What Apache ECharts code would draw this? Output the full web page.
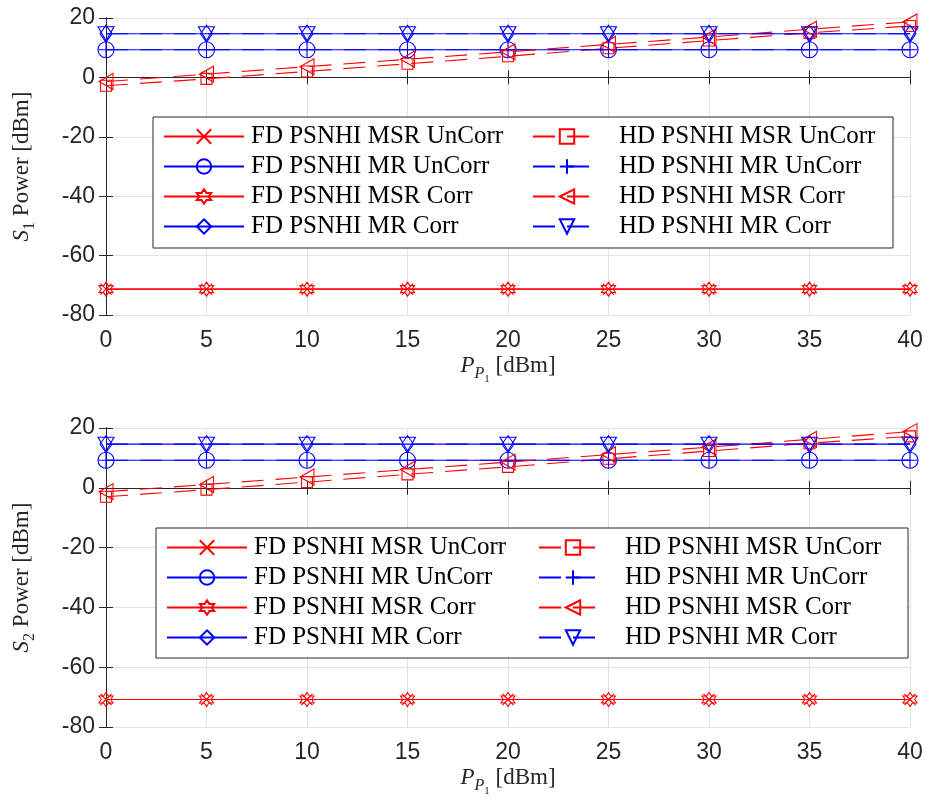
<!DOCTYPE html>
<html>
<head>
<meta charset="utf-8">
<title>S1 / S2 power vs P_P1</title>
<script src="https://cdn.jsdelivr.net/npm/echarts@6/dist/echarts.min.js"></script>
<style>
    html, body { margin: 0; padding: 0; background: #fff; }
    #main { width: 929px; height: 805px; }
</style>
</head>
<body>
<div id="main"></div>
<script>
    // x axis: P_P1 in dBm
    var xValues = [0, 5, 10, 15, 20, 25, 30, 35, 40];

    var seriesNames = [
        'FD PSNHI MSR UnCorr', 'FD PSNHI MR UnCorr', 'FD PSNHI MSR Corr', 'FD PSNHI MR Corr',
        'HD PSNHI MSR UnCorr', 'HD PSNHI MR UnCorr', 'HD PSNHI MSR Corr', 'HD PSNHI MR Corr'
    ];

    // upper plot, S1 power [dBm]
    var s1FdMsrUnCorr = [-71.3, -71.3, -71.3, -71.3, -71.3, -71.3, -71.3, -71.3, -71.3];
    var s1FdMrUnCorr  = [9.3, 9.3, 9.3, 9.3, 9.3, 9.3, 9.3, 9.3, 9.3];
    var s1FdMsrCorr   = [-71.3, -71.3, -71.3, -71.3, -71.3, -71.3, -71.3, -71.3, -71.3];
    var s1FdMrCorr    = [14.7, 14.7, 14.7, 14.7, 14.7, 14.7, 14.7, 14.7, 14.7];
    var s1HdMsrUnCorr = [-2.8, -0.5, 2.0, 4.6, 7.1, 9.8, 12.4, 15.0, 17.3];
    var s1HdMrUnCorr  = [9.3, 9.3, 9.3, 9.3, 9.3, 9.3, 9.3, 9.3, 9.3];
    var s1HdMsrCorr   = [-1.4, 1.1, 3.6, 6.1, 8.6, 11.1, 13.6, 16.2, 18.7];
    var s1HdMrCorr    = [14.7, 14.7, 14.7, 14.7, 14.7, 14.7, 14.7, 14.7, 14.7];

    // lower plot, S2 power [dBm]
    var s2FdMsrUnCorr = [-70.8, -70.8, -70.8, -70.8, -70.8, -70.8, -70.8, -70.8, -70.8];
    var s2FdMrUnCorr  = [9.2, 9.2, 9.2, 9.2, 9.2, 9.2, 9.2, 9.2, 9.2];
    var s2FdMsrCorr   = [-70.8, -70.8, -70.8, -70.8, -70.8, -70.8, -70.8, -70.8, -70.8];
    var s2FdMrCorr    = [14.6, 14.6, 14.6, 14.6, 14.6, 14.6, 14.6, 14.6, 14.6];
    var s2HdMsrUnCorr = [-3.0, -0.6, 1.9, 4.5, 7.0, 9.7, 12.3, 14.9, 17.2];
    var s2HdMrUnCorr  = [9.2, 9.2, 9.2, 9.2, 9.2, 9.2, 9.2, 9.2, 9.2];
    var s2HdMsrCorr   = [-1.3, 1.1, 3.6, 6.1, 8.6, 11.1, 13.6, 16.2, 18.8];
    var s2HdMrCorr    = [14.6, 14.6, 14.6, 14.6, 14.6, 14.6, 14.6, 14.6, 14.6];

    var yTicks = [-80, -60, -40, -20, 0, 20];

    var RED = '#ff0000', BLUE = '#0000ff';
    var AXIS = '#262626', GRIDLINE = '#e3e3e3';
    var SERIF = '"Liberation Serif", "DejaVu Serif", serif';
    var SANS = '"Liberation Sans", Arial, sans-serif';

    // MATLAB-like marker shapes
    var MARK = {
        x:        {symbol: 'path://M0,0L10,10M0,10L10,0', size: 11},
        circle:   {symbol: 'circle', size: 16},
        hexagram: {symbol: 'path://M5,0L6.44,2.5L9.33,2.5L7.89,5L9.33,7.5L6.44,7.5L5,10L3.56,7.5L0.67,7.5L2.11,5L0.67,2.5L3.56,2.5Z', size: 14},
        diamond:  {symbol: 'diamond', size: [12, 17]},
        square:   {symbol: 'rect', size: 11},
        plus:     {symbol: 'path://M5,0L5,10M0,5L10,5', size: 15},
        triLeft:  {symbol: 'path://M0,5L10,0L10,10Z', size: [14, 16]},
        triDown:  {symbol: 'path://M0,0L10,0L5,10Z', size: [16, 14]}
    };

    var styles = [
        {mark: MARK.x, color: RED, dash: false},
        {mark: MARK.circle, color: BLUE, dash: false},
        {mark: MARK.hexagram, color: RED, dash: false},
        {mark: MARK.diamond, color: BLUE, dash: false},
        {mark: MARK.square, color: RED, dash: true},
        {mark: MARK.plus, color: BLUE, dash: true},
        {mark: MARK.triLeft, color: RED, dash: true},
        {mark: MARK.triDown, color: BLUE, dash: true}
    ];

    var chart = echarts.init(document.getElementById('main'));

    function pairs(vals) {
        var out = [];
        for (var i = 0; i < xValues.length; i++) out.push([xValues[i], vals[i]]);
        return out;
    }

    function makeSeries(idx, list) {
        return list.map(function (vals, i) {
            var st = styles[i];
            return {
                name: seriesNames[i],
                type: 'line',
                xAxisIndex: idx * 2,
                yAxisIndex: idx * 2,
                data: pairs(vals),
                symbol: st.mark.symbol,
                symbolSize: st.mark.size,
                showAllSymbol: true,
                lineStyle: {color: st.color, width: 1.1, type: st.dash ? [22, 12] : 'solid'},
                itemStyle: {color: 'none', borderColor: st.color, borderWidth: 1.1},
                emphasis: {disabled: true},
                z: 2
            };
        });
    }

    function xAxes(gridIndex, label) {
        return [{
            type: 'value', gridIndex: gridIndex, position: 'bottom',
            min: 0, max: 40, interval: 5,
            name: label, nameLocation: 'middle', nameGap: 39,
            nameTextStyle: axisNameStyle(),
            axisLine: {lineStyle: {color: AXIS, width: 1}},
            axisTick: {inside: true, length: 7, lineStyle: {color: AXIS}},
            axisLabel: {color: '#262626', fontFamily: SANS, fontSize: 23, margin: 14},
            splitLine: {show: true, lineStyle: {color: GRIDLINE, width: 1}}
        }, {
            type: 'value', gridIndex: gridIndex, position: 'top',
            min: 0, max: 40, interval: 5,
            axisLine: {lineStyle: {color: AXIS, width: 1}},
            axisTick: {inside: true, length: 7, lineStyle: {color: AXIS}},
            axisLabel: {show: false},
            splitLine: {show: false}
        }];
    }

    function yAxes(gridIndex, label) {
        return [{
            type: 'value', gridIndex: gridIndex, position: 'left',
            min: yTicks[0], max: yTicks[yTicks.length - 1], interval: 20,
            name: label, nameLocation: 'middle', nameGap: 72,
            nameTextStyle: axisNameStyle(),
            axisLine: {lineStyle: {color: AXIS, width: 1}},
            axisTick: {inside: true, length: 7, lineStyle: {color: AXIS}},
            axisLabel: {color: '#262626', fontFamily: SANS, fontSize: 23, margin: 11},
            splitLine: {show: true, lineStyle: {color: GRIDLINE, width: 1}}
        }, {
            type: 'value', gridIndex: gridIndex, position: 'right',
            min: yTicks[0], max: yTicks[yTicks.length - 1], interval: 20,
            axisLine: {lineStyle: {color: AXIS, width: 1}},
            axisTick: {inside: true, length: 7, lineStyle: {color: AXIS}},
            axisLabel: {show: false},
            splitLine: {show: false}
        }];
    }

    // rich text for the italic letters and the subscripts
    function axisNameStyle() {
        return {
            color: '#262626', fontFamily: SERIF, fontSize: 23,
            rich: {
                t:  {fontFamily: SERIF, fontSize: 23, lineHeight: 24, verticalAlign: 'top', color: '#262626'},
                i:  {fontFamily: SERIF, fontSize: 23, lineHeight: 24, verticalAlign: 'top', fontStyle: 'italic', color: '#262626'},
                s:  {fontFamily: SERIF, fontSize: 16, lineHeight: 16, verticalAlign: 'top', padding: [12, 0, 0, 0], color: '#262626'},
                si: {fontFamily: SERIF, fontSize: 16, lineHeight: 16, verticalAlign: 'top', padding: [12, 0, 0, 0], fontStyle: 'italic', color: '#262626'},
                ss: {fontFamily: SERIF, fontSize: 11, lineHeight: 12, verticalAlign: 'top', padding: [20, 0, 0, 0], color: '#262626'}
            }
        };
    }

    function legendPair(top, leftX, rightX, leftW, rightW, rightPad) {
        var text = {fontFamily: SERIF, fontSize: 25, color: '#000'};
        function one(x, w, names, pad) {
            var ts = echarts.util.clone(text);
            ts.padding = [0, 0, 0, pad];
            return {
                orient: 'vertical', top: top, left: x, padding: 0,
                itemWidth: w, itemHeight: 18, itemGap: 5,
                selectedMode: false, z: 5,
                textStyle: ts,
                data: names
            };
        }
        return [
            one(leftX, leftW, seriesNames.slice(0, 4), 2),
            one(rightX, rightW, seriesNames.slice(4), rightPad)
        ];
    }

    function legendBox(x1, y1, x2, y2) {
        return {
            type: 'rect', z: 3,
            shape: {x: x1, y: y1, width: x2 - x1, height: y2 - y1},
            style: {fill: '#fff', stroke: AXIS, lineWidth: 1}
        };
    }

    var option = {
        animation: false,
        grid: [
            {left: 106, top: 18, right: 19, height: 297},
            {left: 106, top: 428, right: 19, height: 299}
        ],
        xAxis: xAxes(0, '{i|P}{si|P}{ss|1}{t| [dBm]}').concat(xAxes(1, '{i|P}{si|P}{ss|1}{t| [dBm]}')),
        yAxis: yAxes(0, '{i|S}{s|1}{t| Power [dBm]}').concat(yAxes(1, '{i|S}{s|2}{t| Power [dBm]}')),
        legend: legendPair(124, 163, 532, 80, 68, 13).concat(legendPair(535, 166, 538, 80, 68, 13)),
        graphic: [
            legendBox(153, 117, 893, 248),
            legendBox(156, 528, 908, 658)
        ],
        series: makeSeries(0, [s1FdMsrUnCorr, s1FdMrUnCorr, s1FdMsrCorr, s1FdMrCorr,
                               s1HdMsrUnCorr, s1HdMrUnCorr, s1HdMsrCorr, s1HdMrCorr])
            .concat(makeSeries(1, [s2FdMsrUnCorr, s2FdMrUnCorr, s2FdMsrCorr, s2FdMrCorr,
                                   s2HdMsrUnCorr, s2HdMrUnCorr, s2HdMsrCorr, s2HdMrCorr]))
    };

    chart.setOption(option);
</script>
</body>
</html>
